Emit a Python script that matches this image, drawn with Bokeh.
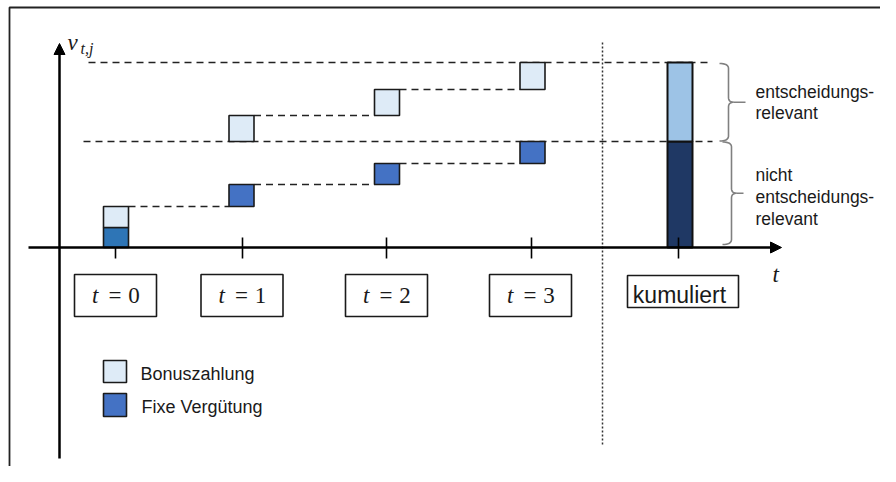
import numpy as np
from bokeh.plotting import figure
from bokeh.models import Range1d, ColumnDataSource, Arrow, NormalHead
from bokeh.core.properties import value
from bokeh.embed import file_html
from bokeh.resources import INLINE

# ---------------- data ----------------
periods = [0, 1, 2, 3]
period_labels = ["0", "1", "2", "3"]
fixed = [20, 22, 21, 22]          # Fixe Vergütung per period
bonus = [21, 26, 26, 27]          # Bonuszahlung per period
cum_label = "kumuliert"
legend_labels = ["Bonuszahlung", "Fixe Vergütung"]
brace_labels_top = ["entscheidungs-", "relevant"]
brace_labels_bottom = ["nicht", "entscheidungs-", "relevant"]
y_label_main = "v"
y_label_sub = "t,j"
x_label = "t"

# ---------------- layout ----------------
W, H = 880, 466
BASE_PX = 247
def Y(py):
    return BASE_PX - py

def TB(py, fs):
    # baseline correction for text rendering
    return Y(py - 0.33 * fs)

slot_x = [115.5, 241.0, 386.5, 532.0]
cum_x = 679.5
tick_x = [115, 242, 386, 531, 678]
bar_w = 25

C_FIX0 = "#2E75B6"
C_FIX = "#4472C4"
C_BON = "#DEEBF7"
C_CUM_DARK = "#1F3864"
C_CUM_LIGHT = "#9DC3E6"
TXT = "#1a1a1a"
SANS = value("Liberation Sans")
SERIF = value("Liberation Serif")

p = figure(width=W, height=H, x_range=Range1d(0, W), y_range=Range1d(Y(H), Y(0)),
           output_backend="svg", toolbar_location=None, x_axis_type=None, y_axis_type=None,
           min_border=0, min_border_left=0, min_border_right=0, min_border_top=0,
           min_border_bottom=0, outline_line_color=None, background_fill_color="white")
p.xgrid.visible = False
p.ygrid.visible = False

# frame
p.line([9, 9, W], [Y(H), Y(7), Y(7)], line_color="#222222", line_width=1.8)

# ---------------- stacking ----------------
seq = [("f", 0), ("b", 0)] + [("f", i) for i in periods[1:]] + [("b", i) for i in periods[1:]]
level = 0.0
boxes = []
for kind, i in seq:
    h = fixed[i] if kind == "f" else bonus[i]
    boxes.append(dict(kind=kind, i=i, bottom=level, top=level + h))
    level += h
total = level
nonrel = sum(fixed) + bonus[0]

# dashed connectors
n_nonrel = 2 + len(periods) - 1
chains = [boxes[:n_nonrel], boxes[n_nonrel:]]
xs0, xs1, ys = [], [], []
for chain in chains:
    for a, b in zip(chain[:-1], chain[1:]):
        if a["i"] != b["i"]:
            xs0.append(slot_x[a["i"]] + bar_w / 2)
            xs1.append(slot_x[b["i"]] - bar_w / 2)
            ys.append(a["top"])
p.segment(x0=xs0, y0=ys, x1=xs1, y1=ys, line_color="#222222", line_width=1.6, line_dash="7 5")
p.segment(x0=[83, 88], y0=[nonrel, total], x1=[712, 712], y1=[nonrel, total],
          line_color="#222222", line_width=1.6, line_dash="7 5")

# dotted separator
p.segment(x0=[602], y0=[Y(42)], x1=[602], y1=[Y(445)], line_color="#333333",
          line_width=1.5, line_dash="2 2")

# axes
p.add_layout(Arrow(end=NormalHead(size=11, fill_color="black", line_color="black"),
                   x_start=59, y_start=Y(458), x_end=59, y_end=Y(43),
                   line_width=2.5, line_color="black"))
p.add_layout(Arrow(end=NormalHead(size=11, fill_color="black", line_color="black"),
                   x_start=28, y_start=0, x_end=781, y_end=0,
                   line_width=2.5, line_color="black"))
p.segment(x0=tick_x, y0=[Y(237)] * len(tick_x), x1=tick_x, y1=[Y(258)] * len(tick_x),
          line_color="black", line_width=1.6)

# boxes
colors = []
for b in boxes:
    if b["kind"] == "b":
        colors.append(C_BON)
    else:
        colors.append(C_FIX0 if b["i"] == 0 else C_FIX)
src = ColumnDataSource(dict(
    left=[slot_x[b["i"]] - bar_w / 2 for b in boxes],
    right=[slot_x[b["i"]] + bar_w / 2 for b in boxes],
    bottom=[b["bottom"] for b in boxes],
    top=[b["top"] for b in boxes],
    color=colors))
p.quad(left="left", right="right", bottom="bottom", top="top", fill_color="color",
       line_color=TXT, line_width=1.6, source=src)

# cumulative bar
p.quad(left=[cum_x - bar_w / 2] * 2, right=[cum_x + bar_w / 2] * 2,
       bottom=[0, nonrel], top=[nonrel, total], fill_color=[C_CUM_DARK, C_CUM_LIGHT],
       line_color="#111111", line_width=2)
p.segment(x0=[tick_x[4]], y0=[Y(237)], x1=[tick_x[4]], y1=[0], line_color="black", line_width=1.6)

# braces
def brace(x_end, x_spine, x_tip, y_top, y_bot, r=5):
    ym = (y_top + y_bot) / 2
    t = np.linspace(0, 1, 12)
    def quad(p0, c, p1):
        return ((1 - t) ** 2 * p0[0] + 2 * (1 - t) * t * c[0] + t ** 2 * p1[0],
                (1 - t) ** 2 * p0[1] + 2 * (1 - t) * t * c[1] + t ** 2 * p1[1])
    out = []
    for ye, sgn in ((y_top, -1), (y_bot, 1)):
        ax, ay = quad((x_end, ye), (x_spine, ye), (x_spine, ye + sgn * r))
        bx, by = quad((x_spine, ym - sgn * r), (x_spine, ym), (x_spine + r, ym))
        out.append((list(ax) + list(bx), list(ay) + list(by)))
    out.append(([x_spine + r, x_tip], [ym, ym]))
    return out

segs = brace(719, 728, 745, total - 1, nonrel + 0.5) + brace(722, 731, 743, nonrel - 0.5, 3)
p.multi_line(xs=[s[0] for s in segs], ys=[s[1] for s in segs], line_color="#808080", line_width=1.6)

# brace labels
FS_R = 17.5
p.text(x=[755] * 2, y=[TB(97, FS_R), TB(118, FS_R)], text=brace_labels_top, text_font=SANS,
       text_font_size=f"{FS_R}px", text_baseline="alphabetic", text_color=TXT)
p.text(x=[755] * 3, y=[TB(180, FS_R), TB(202, FS_R), TB(224, FS_R)], text=brace_labels_bottom,
       text_font=SANS, text_font_size=f"{FS_R}px", text_baseline="alphabetic", text_color=TXT)

# period label boxes
FS_T = 23
box_cx = [115, 241.5, 386, 530]
p.quad(left=[c - 41 for c in box_cx], right=[c + 41 for c in box_cx],
       top=[Y(274)] * 4, bottom=[Y(316)] * 4, fill_color="white", line_color=TXT, line_width=1.6)
p.text(x=[c - 17 for c in box_cx], y=[TB(303, FS_T)] * 4, text=["t"] * 4, text_font=SERIF,
       text_font_style="italic", text_font_size=f"{FS_T}px", text_align="right",
       text_baseline="alphabetic", text_color=TXT)
p.text(x=[c - 0.5 for c in box_cx], y=[TB(303, FS_T)] * 4, text=["="] * 4,
       text_font=SERIF, text_font_size=f"{FS_T}px", text_align="center",
       text_baseline="alphabetic", text_color=TXT)
p.text(x=[c + 18.5 for c in box_cx], y=[TB(303, FS_T)] * 4, text=period_labels,
       text_font=SERIF, text_font_size=f"{FS_T}px", text_align="center",
       text_baseline="alphabetic", text_color=TXT)

# kumuliert box
FS_K = 23
p.quad(left=[627], right=[738], top=[Y(275)], bottom=[Y(307)], fill_color="white",
       line_color=TXT, line_width=1.6)
p.text(x=[679], y=[TB(302, FS_K)], text=[cum_label], text_font=SANS, text_font_size=f"{FS_K}px",
       text_align="center", text_baseline="alphabetic", text_color=TXT)

# axis labels
p.text(x=[772], y=[TB(282, 23)], text=[x_label], text_font=SERIF, text_font_style="italic",
       text_font_size="23px", text_baseline="alphabetic", text_color=TXT)
p.text(x=[67], y=[TB(50, 23)], text=[y_label_main], text_font=SERIF, text_font_style="italic",
       text_font_size="23px", text_baseline="alphabetic", text_color=TXT)
p.text(x=[80], y=[TB(53, 16)], text=[y_label_sub], text_font=SERIF, text_font_style="italic",
       text_font_size="16px", text_baseline="alphabetic", text_color=TXT)

# legend
FS_L = 18
p.quad(left=[103, 103], right=[126, 126], top=[Y(360), Y(393)], bottom=[Y(382), Y(416)],
       fill_color=[C_BON, C_FIX], line_color=TXT, line_width=1.6)
p.text(x=[140, 141], y=[TB(379, FS_L), TB(412, FS_L)], text=legend_labels, text_font=SANS,
       text_font_size=f"{FS_L}px", text_baseline="alphabetic", text_color=TXT)

open("out.html", "w").write(file_html(p, INLINE))
